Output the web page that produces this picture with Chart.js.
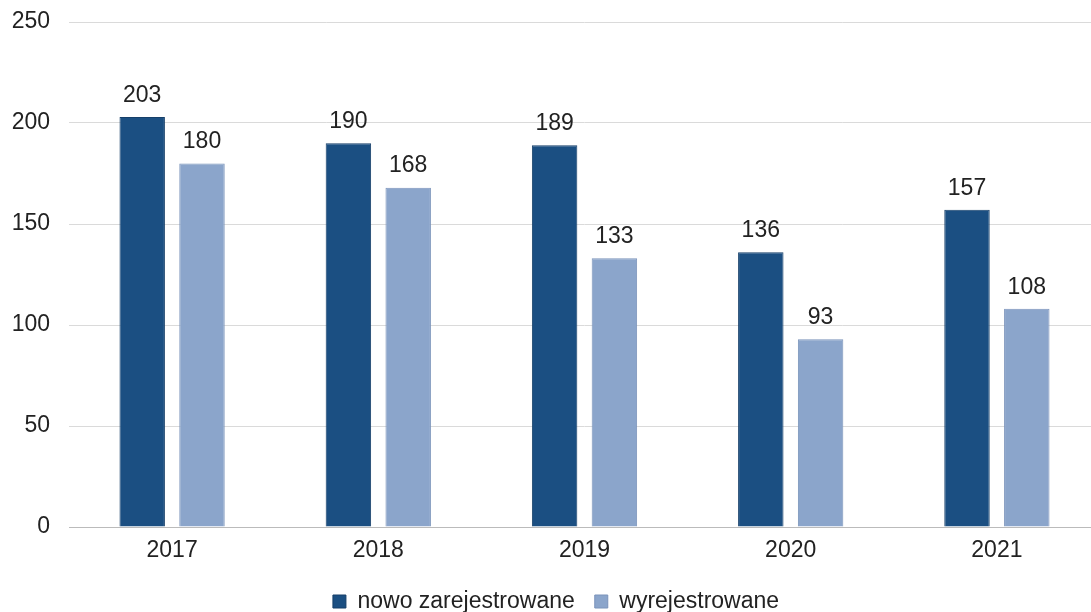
<!DOCTYPE html>
<html><head><meta charset="utf-8">
<script src="https://cdn.jsdelivr.net/npm/chart.js@4/dist/chart.umd.min.js"></script>
<style>html,body{margin:0;padding:0;background:#fff;overflow:hidden;}#wrap{width:1100px;height:612px;}</style>
</head><body><div id="wrap"><canvas id="c" width="1100" height="612"></canvas></div>
<script>
const categories = ["2017","2018","2019","2020","2021"];
const nowoZarejestrowane = [203,190,189,136,157];
const wyrejestrowane = [180,168,133,93,108];
const yTicks = [0,50,100,150,200,250];

const FONT = '"Liberation Sans", Arial, sans-serif';
const labelPlugin = {
  id:'valueLabels',
  afterDatasetsDraw(chart){
    const ctx = chart.ctx;
    ctx.save();
    ctx.font = '23px ' + FONT;
    ctx.fillStyle = '#222';
    ctx.textAlign = 'center';
    ctx.textBaseline = 'bottom';
    chart.data.datasets.forEach((ds,i)=>{
      chart.getDatasetMeta(i).data.forEach((el,j)=>{
        ctx.fillText(String(ds.data[j]), el.x, el.y - 10);
      });
    });
    ctx.restore();
  }
};

new Chart(document.getElementById('c'),{
  type:'bar',
  data:{labels:categories,datasets:[
    {label:'nowo zarejestrowane',data:nowoZarejestrowane,backgroundColor:'#1b4f82',borderColor:'#163f69',borderWidth:1},
    {label:'wyrejestrowane',data:wyrejestrowane,backgroundColor:'#8ba5cb',borderColor:'#7a93ba',borderWidth:1}
  ]},
  options:{
    responsive:false,animation:false,
    categoryPercentage:0.58,barPercentage:0.76,
    layout:{padding:{left:12,right:0,top:22,bottom:-11}},
    plugins:{
      legend:{position:'bottom',labels:{font:{size:23,family:FONT},color:'#222',boxWidth:13,boxHeight:13,padding:20}},
      tooltip:{enabled:false}
    },
    scales:{
      x:{grid:{display:false,drawTicks:false},border:{display:true,color:'#bbb'},
         ticks:{font:{size:23,family:FONT},color:'#222',padding:10},
         afterFit(ax){ax.height = 43;}},
      y:{min:0,max:250,afterBuildTicks(ax){ax.ticks=yTicks.map(v=>({value:v}));},
         grid:{color:'#dadada',drawTicks:false},border:{display:false},
         ticks:{font:{size:23,family:FONT},color:'#222',padding:19},
         afterFit(ax){ax.width = 57; ax.paddingTop = 0; ax.paddingBottom = 0;}}
    }
  },
  plugins:[labelPlugin]
});
</script></body></html>
